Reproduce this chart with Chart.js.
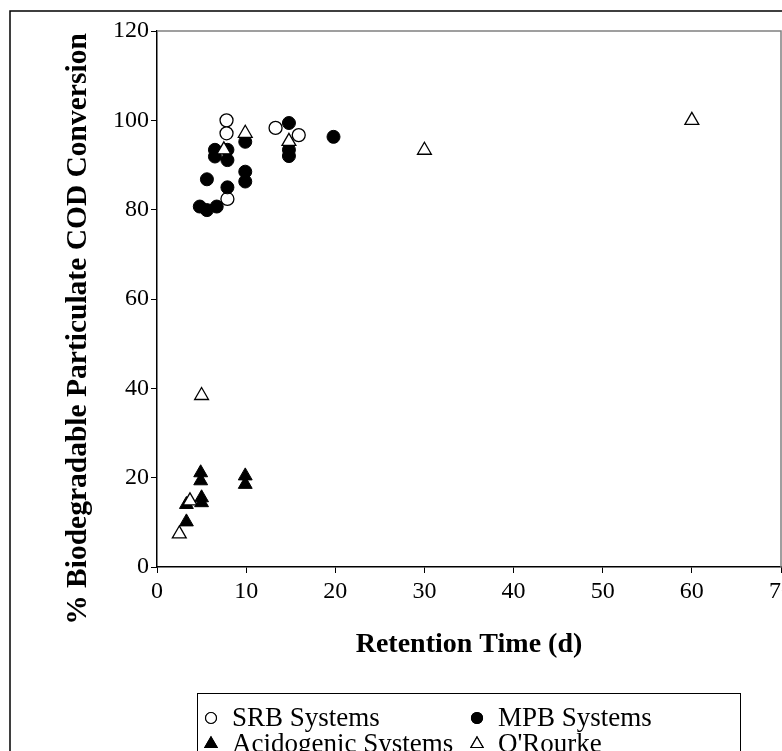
<!DOCTYPE html>
<html>
<head>
<meta charset="utf-8">
<script src="https://cdn.jsdelivr.net/npm/chart.js@4.4.0/dist/chart.umd.min.js"></script>
<style>
  html, body { margin: 0; padding: 0; background: #fff; overflow: hidden; }
  #wrap { width: 782px; height: 751px; overflow: hidden; position: relative; }
  #chart { position: absolute; left: 0; top: 0; }
</style>
</head>
<body>
<div id="wrap"><canvas id="chart" width="800" height="790"></canvas></div>
<script>
// datos (x = dias, y = %)
const srbX = [7.8, 7.8, 13.3, 15.9, 7.9];
const srbY = [100, 97.1, 98.3, 96.7, 82.4];

const mpbX = [14.8, 14.8, 14.8, 19.8, 9.9, 6.5, 7.9, 6.5, 7.9, 5.6, 7.9, 9.9, 9.9, 4.8, 5.6, 6.7];
const mpbY = [99.4, 93.4, 92.0, 96.3, 95.2, 93.4, 93.4, 91.9, 91.1, 86.8, 85.0, 88.5, 86.3, 80.7, 79.9, 80.7];

const acidX = [4.9, 4.9, 5.0, 5.0, 3.3, 3.3, 9.9, 9.9];
const acidY = [21.1, 19.3, 15.5, 14.4, 14.0, 10.1, 20.4, 18.5];

const orkX = [7.5, 9.9, 14.8, 30, 60, 5, 3.7, 2.5];
const orkY = [93.4, 97.1, 95.3, 93.3, 100, 38.4, 14.8, 7.4];

const seriesNames = ['SRB Systems', 'MPB Systems', 'Acidogenic Systems', "O'Rourke"];
const xTicks = [0, 10, 20, 30, 40, 50, 60, 70];
const yTicks = [0, 20, 40, 60, 80, 100, 120];
const yTitle = '% Biodegradable Particulate COD Conversion';

const toPts = (xs, ys) => xs.map((x, i) => ({ x: x, y: ys[i] }));
const serif = 'Liberation Serif';

// marco exterior, borde gris del area, titulo Y y leyenda con recuadro
const frame = {
    id: 'frame',
    beforeDatasetsDraw(chart) {
        const { ctx, chartArea: a } = chart;
        ctx.save();
        ctx.strokeStyle = '#808080';
        ctx.lineWidth = 1.5;
        ctx.beginPath();
        ctx.moveTo(a.left, a.top);
        ctx.lineTo(a.right, a.top);
        ctx.lineTo(a.right, a.bottom);
        ctx.stroke();
        ctx.restore();
    },
    afterDraw(chart) {
        const ctx = chart.ctx;
        ctx.save();
        ctx.strokeStyle = '#000';
        ctx.lineWidth = 1.5;
        ctx.strokeRect(10, 11, 1000, 1000);

        // titulo del eje Y (algo desplazado hacia abajo como en el original)
        ctx.save();
        ctx.translate(78, 329);
        ctx.rotate(-Math.PI / 2);
        ctx.font = 'bold 29.5px "' + serif + '"';
        ctx.textAlign = 'center';
        ctx.textBaseline = 'middle';
        ctx.fillStyle = '#000';
        ctx.fillText(yTitle, 0, 0);
        ctx.restore();

        // leyenda
        const box = { left: 197, top: 693, width: 543, height: 120 };
        ctx.lineWidth = 1;
        ctx.strokeRect(box.left + 0.5, box.top + 0.5, box.width, box.height);
        const cols = [211, 477];
        const rows = [718, 744];
        ctx.font = '27px "' + serif + '"';
        ctx.textBaseline = 'middle';
        chart.data.datasets.forEach((ds, i) => {
            const cx = cols[i % 2];
            const cy = rows[Math.floor(i / 2)];
            Chart.helpers.drawPoint(ctx, {
                pointStyle: ds.pointStyle,
                radius: ds.pointStyle === 'triangle' ? 7 : 5.5,
                borderWidth: 1.2
            }, cx, cy);
            ctx.fillStyle = ds.backgroundColor;
            ctx.strokeStyle = '#000';
            ctx.fill();
            ctx.lineWidth = 1.2;
            ctx.stroke();
            ctx.fillStyle = '#000';
            ctx.fillText(ds.label, cx + 21, cy + 1);
        });
        ctx.restore();
    }
};

new Chart(document.getElementById('chart'), {
    type: 'scatter',
    data: {
        datasets: [{
            label: seriesNames[0],
            data: toPts(srbX, srbY),
            pointStyle: 'circle',
            pointRadius: 6.5,
            backgroundColor: '#fff',
            borderColor: '#000',
            borderWidth: 1.3,
            order: 4
        }, {
            label: seriesNames[1],
            data: toPts(mpbX, mpbY),
            pointStyle: 'circle',
            pointRadius: 6.5,
            backgroundColor: '#000',
            borderColor: '#000',
            borderWidth: 1,
            order: 3
        }, {
            label: seriesNames[2],
            data: toPts(acidX, acidY),
            pointStyle: 'triangle',
            pointRadius: 8,
            backgroundColor: '#000',
            borderColor: '#000',
            borderWidth: 1,
            order: 2
        }, {
            label: seriesNames[3],
            data: toPts(orkX, orkY),
            pointStyle: 'triangle',
            pointRadius: 8,
            backgroundColor: '#fff',
            borderColor: '#000',
            borderWidth: 1.3,
            order: 1
        }]
    },
    options: {
        responsive: false,
        animation: false,
        layout: {
            padding: { left: 0, top: 31, right: 19, bottom: 128 }
        },
        plugins: {
            legend: { display: false },
            tooltip: { enabled: false }
        },
        scales: {
            x: {
                type: 'linear',
                min: 0,
                max: 70,
                afterBuildTicks: s => { s.ticks = xTicks.map(v => ({ value: v })); },
                afterFit: s => { s.height = 95; },
                ticks: {
                    color: '#000',
                    padding: 4,
                    maxRotation: 0,
                    font: { family: serif, size: 24 }
                },
                grid: {
                    drawOnChartArea: false,
                    color: '#000',
                    tickLength: 6,
                    tickWidth: 1
                },
                border: { color: '#000', width: 1.5 },
                title: {
                    display: true,
                    text: 'Retention Time (d)',
                    color: '#000',
                    padding: { top: 0, bottom: 0 },
                    font: { family: serif, size: 28, weight: 'bold' }
                }
            },
            y: {
                type: 'linear',
                min: 0,
                max: 120,
                afterBuildTicks: s => { s.ticks = yTicks.map(v => ({ value: v })); },
                afterFit: s => { s.width = 157; },
                ticks: {
                    color: '#000',
                    padding: 2,
                    font: { family: serif, size: 24 }
                },
                grid: {
                    drawOnChartArea: false,
                    color: '#000',
                    tickLength: 6,
                    tickWidth: 1
                },
                border: { color: '#000', width: 1.5 }
            }
        }
    },
    plugins: [frame]
});
</script>
</body>
</html>
